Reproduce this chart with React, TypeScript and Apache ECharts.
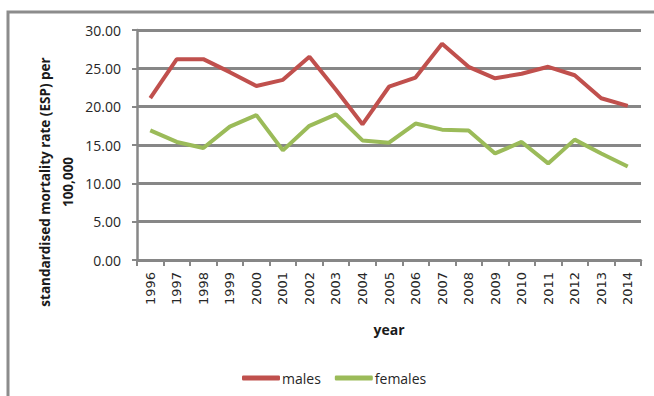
import React, { useEffect, useRef } from "react";
import * as echarts from "echarts";

const years = ["1996","1997","1998","1999","2000","2001","2002","2003","2004","2005","2006","2007","2008","2009","2010","2011","2012","2013","2014"];
const males = [21.1, 26.2, 26.2, 24.5, 22.7, 23.5, 26.5, 22.2, 17.7, 22.6, 23.8, 28.2, 25.2, 23.7, 24.3, 25.2, 24.1, 21.1, 20.1];
const females = [16.9, 15.4, 14.6, 17.4, 18.9, 14.3, 17.5, 19.0, 15.6, 15.3, 17.8, 17.0, 16.9, 13.9, 15.4, 12.6, 15.7, 13.9, 12.2];
const yTitle = "standardised mortality rate (ESP) per\n100,000";
const xTitle = "year";

export default function App() {
  const ref = useRef<HTMLDivElement>(null);
  useEffect(() => {
    if (!ref.current) return;
    const chart = echarts.init(ref.current, null, { renderer: "svg" });
    const gray = "#878787";
    chart.setOption({
      animation: false,
      backgroundColor: "#ffffff",
      grid: { left: 137, right: 13, top: 30, bottom: 136, containLabel: false },
      legend: {
        left: 237,
        top: 366,
        itemWidth: 38,
        itemHeight: 5,
        itemGap: 14,
        icon: "roundRect",
        textStyle: { fontFamily: "Open Sans", fontSize: 14, color: "#262626", padding: [0, 0, 0, -3] },
        data: ["males", "females"],
      },
      xAxis: {
        type: "category",
        data: years,
        boundaryGap: true,
        axisLine: { lineStyle: { color: gray, width: 2.5 } },
        axisTick: { show: true, length: 6, lineStyle: { color: gray, width: 2 } },
        axisLabel: { rotate: 90, margin: 12, fontFamily: "DejaVu Sans", fontSize: 13, color: "#262626", interval: 0 },
        splitLine: { show: false },
      },
      yAxis: {
        type: "value",
        min: 0,
        max: 30,
        interval: 5,
        axisLine: { show: true, lineStyle: { color: gray, width: 2.5 } },
        axisTick: { show: true, length: 5, lineStyle: { color: gray, width: 2 } },
        axisLabel: { margin: 16, fontFamily: "Open Sans", fontSize: 14, color: "#262626", formatter: (v: number) => v.toFixed(2) },
        splitLine: { show: true, lineStyle: { color: gray, width: 3 } },
      },
      graphic: [
        {
          type: "rect",
          shape: { x: 8, y: 12, width: 720, height: 420 },
          style: { fill: "none", stroke: "#8c8c8c", lineWidth: 3 },
          silent: true,
        },
        {
          type: "text",
          x: 56,
          y: 182,
          rotation: Math.PI / 2,
          style: {
            text: yTitle,
            fontFamily: "Open Sans",
            fontWeight: "bold",
            fontSize: 13.5,
            lineHeight: 23,
            fill: "#1a1a1a",
            align: "center",
            verticalAlign: "middle",
          },
        },
        {
          type: "text",
          x: 389,
          y: 329,
          style: {
            text: xTitle,
            fontFamily: "Open Sans",
            fontWeight: "bold",
            fontSize: 14,
            fill: "#1a1a1a",
            align: "center",
            verticalAlign: "middle",
          },
        },
      ],
      series: [
        {
          name: "males",
          type: "line",
          data: males,
          showSymbol: false,
          symbol: "none",
          lineStyle: { color: "#C0504D", width: 4 },
          itemStyle: { color: "#C0504D" },
        },
        {
          name: "females",
          type: "line",
          data: females,
          showSymbol: false,
          symbol: "none",
          lineStyle: { color: "#9BBB59", width: 4 },
          itemStyle: { color: "#9BBB59" },
        },
      ],
    });
    return () => chart.dispose();
  }, []);
  return (
    <div
      ref={ref}
      style={{ position: "absolute", left: 0, top: 0, width: 654, height: 396 }}
    />
  );
}
